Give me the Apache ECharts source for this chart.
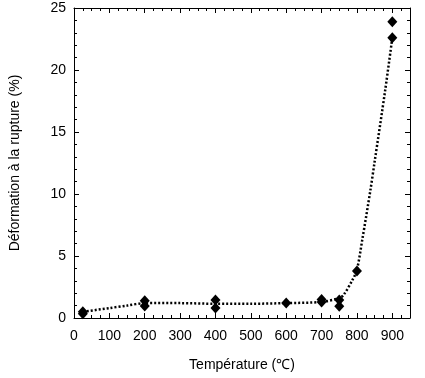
<!DOCTYPE html>
<html><head><meta charset="utf-8">
<script src="https://cdn.jsdelivr.net/npm/echarts@6/dist/echarts.min.js"></script>
<style>html,body{margin:0;padding:0;background:#fff}#c{width:425px;height:378px}</style>
</head><body><div id="c"></div>
<script>
// Measured points (temperature °C, strain at rupture %)
const pointTemps = [25, 25, 200, 200, 400, 400, 600, 700, 700, 750, 750, 800, 900, 900];
const pointValues = [0.5, 0.35, 1.4, 0.97, 1.45, 0.8, 1.2, 1.5, 1.3, 1.45, 0.95, 3.8, 23.9, 22.6];
// Fitted trend (dotted line)
const trendTemps = [25, 100, 150, 200, 300, 400, 500, 600, 700, 750, 762, 787, 800, 815, 838, 850, 880, 900];
const trendValues = [0.5, 0.8, 1.0, 1.2, 1.2, 1.15, 1.15, 1.2, 1.3, 1.6, 1.85, 3.05, 3.9, 6.3, 10.3, 12.6, 18.4, 22.6];
const xTicks = [0, 100, 200, 300, 400, 500, 600, 700, 800, 900];
const yTicks = [0, 5, 10, 15, 20, 25];

const font = 'Liberation Sans, Arial, sans-serif';
const axisBase = {
  axisLine: {show: true, onZero: false, lineStyle: {color: '#000', width: 1}},
  axisTick: {show: true, inside: true, length: 5, lineStyle: {color: '#000'}},
  splitLine: {show: false}
};
const chart = echarts.init(document.getElementById('c'), null, {renderer: 'canvas'});
chart.setOption({
  animation: false,
  backgroundColor: '#fff',
  grid: {left: 72, right: 15, top: 8, bottom: 60},
  xAxis: [
    Object.assign({}, axisBase, {
      type: 'value', min: 0, max: 950, interval: 100, position: 'bottom',
      minorTick: {show: true, splitNumber: 4, length: 3, lineStyle: {color: '#000'}},
      axisLabel: {color: '#000', fontSize: 14, fontFamily: font, margin: 11,
        formatter: v => xTicks.includes(v) ? String(v) : ''},
      name: 'Température (℃)', nameLocation: 'middle', nameGap: 40,
      nameTextStyle: {color: '#000', fontSize: 14, fontFamily: font}
    }),
    Object.assign({}, axisBase, {
      type: 'value', min: 0, max: 950, interval: 100, position: 'top',
      minorTick: {show: true, splitNumber: 4, length: 3, lineStyle: {color: '#000'}},
      axisLabel: {show: false}
    })
  ],
  yAxis: [
    Object.assign({}, axisBase, {
      type: 'value', min: 0, max: 25, interval: 5, position: 'left',
      minorTick: {show: true, splitNumber: 5, length: 3, lineStyle: {color: '#000'}},
      axisLabel: {color: '#000', fontSize: 14, fontFamily: font, margin: 8,
        formatter: v => yTicks.includes(v) ? String(v) : ''},
      name: 'Déformation à la rupture (%)', nameLocation: 'middle', nameGap: 52,
      nameTextStyle: {color: '#000', fontSize: 14, fontFamily: font}
    }),
    Object.assign({}, axisBase, {
      type: 'value', min: 0, max: 25, interval: 5, position: 'right',
      minorTick: {show: true, splitNumber: 5, length: 3, lineStyle: {color: '#000'}},
      axisLabel: {show: false}
    })
  ],
  series: [
    {
      type: 'line', xAxisIndex: 0, yAxisIndex: 0,
      data: trendTemps.map((t, i) => [t, trendValues[i]]),
      smooth: 0.3, showSymbol: false, symbol: 'none',
      lineStyle: {color: '#000', width: 2.5, type: [2, 2]}
    },
    {
      type: 'scatter', xAxisIndex: 0, yAxisIndex: 0,
      data: pointTemps.map((t, i) => [t, pointValues[i]]),
      symbol: 'diamond', symbolSize: [10, 11],
      itemStyle: {color: '#000', opacity: 1}
    }
  ]
});
</script></body></html>
